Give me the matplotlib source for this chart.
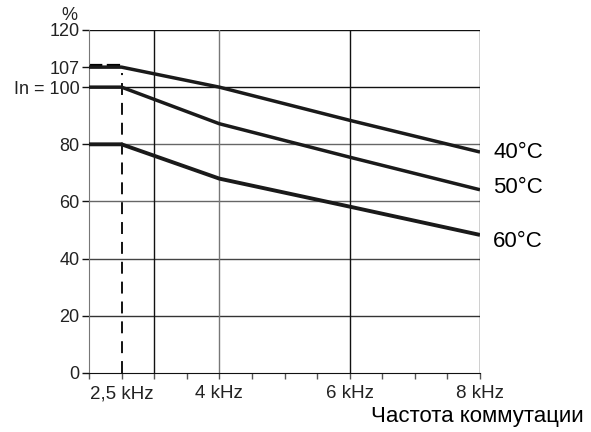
import matplotlib
matplotlib.use("Agg")
import matplotlib.pyplot as plt

plt.rcParams['font.family'] = ['Liberation Sans', 'DejaVu Sans']

# derating curves (kHz, %)
freq = [2.0, 2.5, 4.0, 6.0, 8.0]
curve_40 = [107, 107, 100, 88.4, 77.3]
curve_50 = [100, 100, 87.2, 75.5, 64.1]
curve_60 = [80, 80, 68, 58.2, 48.3]
curve_names = ["40°C", "50°C", "60°C"]

ytick_vals = [0, 20, 40, 60, 80, 100, 107, 120]
ytick_text = ["0", "20", "40", "60", "80", "In = 100", "107", "120"]
xtick_vals = [2.5, 4, 6, 8]
xtick_text = ["2,5 kHz", "4 kHz", "6 kHz", "8 kHz"]

txt = "#222222"

fig = plt.figure(figsize=(5.91, 4.32), dpi=100)
ax = fig.add_axes([0.1506, 0.1366, 0.6616, 0.794])
ax.set_xlim(2, 8)
ax.set_ylim(0, 120)

# grid: some lines black, some grey as in the print
hgrid = {20: "#333333", 40: "#444444", 60: "#666666", 80: "#666666", 100: "#111111", 120: "#111111"}
for v, c in hgrid.items():
    ax.axhline(v, color=c, lw=1.0, zorder=1)
vgrid = {3: "#111111", 4: "#777777", 6: "#111111", 8: "#111111"}
for v, c in vgrid.items():
    ax.axvline(v, color=c, lw=1.0, zorder=1)

# dashed 2.5 kHz marker and 107 % level
ax.plot([2.5, 2.5], [0, 105], color="black", lw=1.3, ls=(0, (6.6, 4.4)), zorder=2)
ax.plot([2.0, 2.5], [107.6, 107.6], color="black", lw=1.6, ls=(0, (6, 2)), zorder=2)

for ys, lw in zip([curve_40, curve_50, curve_60], [2.5, 2.5, 2.8]):
    ax.plot(freq, ys, color="#1a1a1a", lw=lw, solid_capstyle="butt", zorder=3)

label_y = [77, 65, 46]
for name, yy in zip(curve_names, label_y):
    ax.text(8.2, yy, name, fontsize=16, color="black", va="center", ha="left")

for s in ["top", "right"]:
    ax.spines[s].set_visible(False)
ax.spines["left"].set_color("#777777")
ax.spines["bottom"].set_color("#111111")

ax.set_yticks(ytick_vals)
ax.set_yticklabels(ytick_text, fontsize=13, color=txt)
ax.tick_params(axis="y", direction="out", length=5, width=1, colors="#111111", labelcolor=txt, pad=2)

ax.set_xticks(xtick_vals)
ax.set_xticklabels(xtick_text, fontsize=13.5, color=txt)
ax.set_xticks([2.0, 3.0, 3.5, 4.5, 5.0, 5.5, 6.5, 7.0, 7.5], minor=True)
ax.tick_params(axis="x", which="both", direction="out", length=4, width=1, colors="#555555", labelcolor=txt, pad=5)

fig.text(0.118, 0.965, "%", fontsize=13, color=txt, ha="center", va="center")
fig.text(0.988, 0.012, "Частота коммутации", fontsize=16, color="black", ha="right", va="bottom")

fig.savefig("out.png", dpi=100)
